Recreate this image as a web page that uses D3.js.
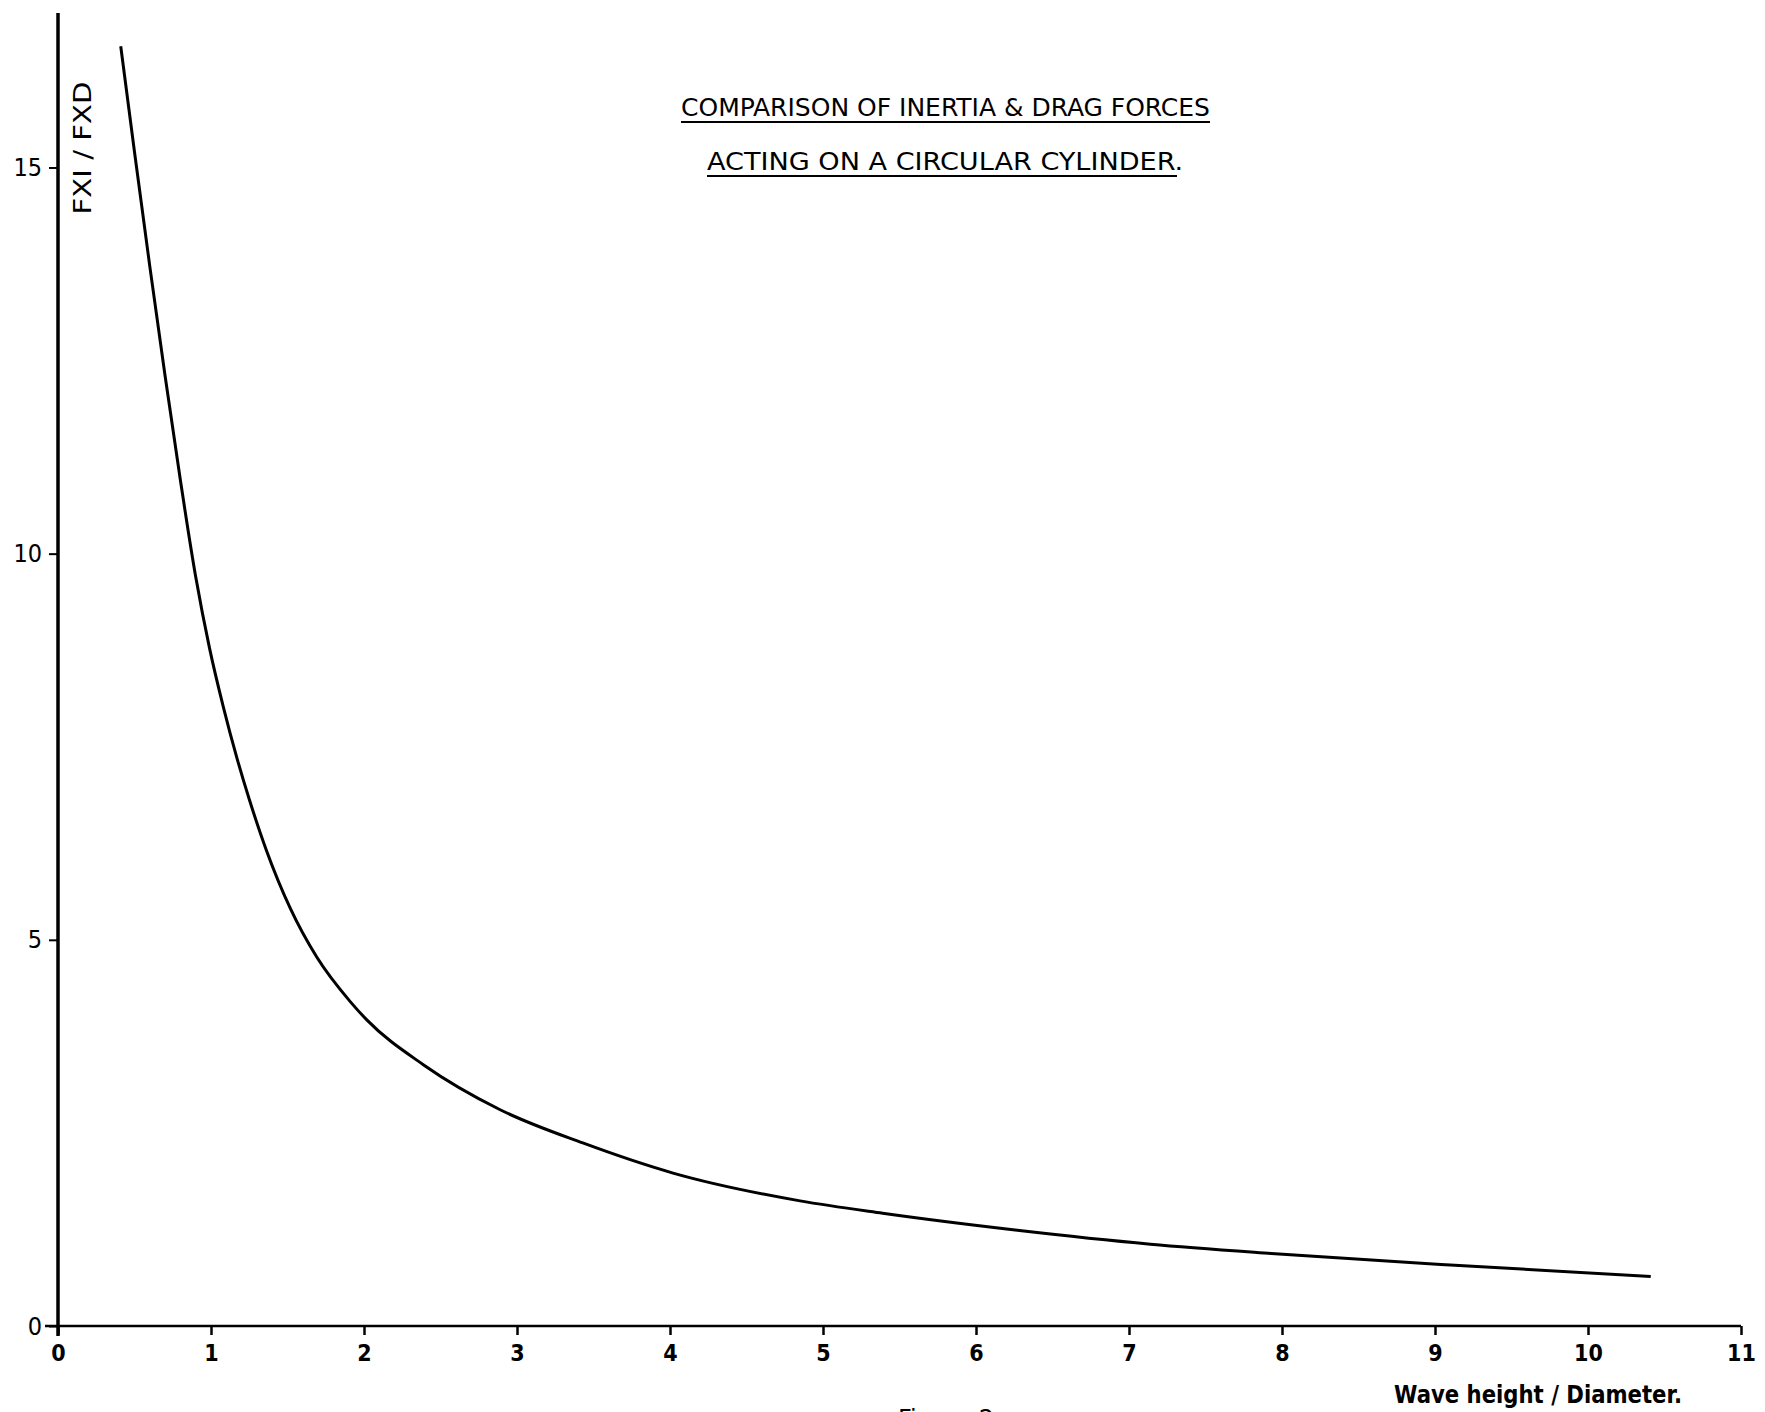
<!DOCTYPE html>
<head>
    <title>Inertia vs drag forces</title>
    <script src="https://cdn.jsdelivr.net/npm/d3@7"></script>
    <style type="text/css">
     body { margin: 0; background: #fff; }
     text { font-family: "DejaVu Sans", sans-serif; fill: #000; }
    </style>
</head>
<body>
    <script type="text/javascript">

     // curve: wave height / diameter vs FXI / FXD
     var ratioH = [0.41, 0.50, 0.60, 0.70, 0.80, 0.90, 0.99, 1.08, 1.17, 1.25, 1.36, 1.52, 1.69,
		   1.91, 2.02, 2.39, 2.89, 3.43, 4.02, 4.85, 5.39, 6.27, 7.14, 7.93, 9.10, 10.41];
     var ratioF = [16.57, 15.20, 13.72, 12.30, 10.95, 9.70, 8.78, 8.02, 7.35, 6.82, 6.17, 5.40, 4.78,
		   4.20, 3.96, 3.38, 2.80, 2.37, 1.98, 1.62, 1.46, 1.24, 1.06, 0.94, 0.79, 0.64];
     var xTicks = [0, 1, 2, 3, 4, 5, 6, 7, 8, 9, 10, 11];
     var yTicks = [0, 5, 10, 15];
     var titleLines = ["COMPARISON OF INERTIA & DRAG FORCES", "ACTING ON A CIRCULAR CYLINDER."];

     var w = 1765;
     var h = 1412;

     var svg = d3.select("body")
		 .append("svg")
		 .attr("width", w)
		 .attr("height", h);

     var x = d3.scaleLinear().domain([0, 11]).range([58, 1741]);
     var y = d3.scaleLinear().domain([0, 17]).range([1326, 13]);

     var pts = ratioH.map(function(d, i){ return [d, ratioF[i]]; });

     // x axis
     var xAxis = d3.axisBottom(x)
		   .tickValues(xTicks)
		   .tickSize(9)
		   .tickSizeOuter(0)
		   .tickPadding(10);
     var gx = svg.append("g")
		 .attr("transform", "translate(0," + y(0) + ")")
		 .call(xAxis);
     gx.select(".domain").remove();
     gx.append("line")
       .attr("x1", 45).attr("x2", x(11))
       .attr("stroke", "#000").attr("stroke-width", 2.5);
     gx.selectAll(".tick line").attr("stroke-width", 2.5);
     gx.selectAll(".tick text")
       .style("font-size", "23px")
       .style("font-weight", "bold")
       .style("font-family", "DejaVu Sans Condensed, DejaVu Sans, sans-serif");

     // y axis
     var yAxis = d3.axisLeft(y)
		   .tickValues(yTicks)
		   .tickSize(9)
		   .tickSizeOuter(0)
		   .tickPadding(7);
     var gy = svg.append("g")
		 .attr("transform", "translate(" + x(0) + ",0)")
		 .call(yAxis);
     gy.select(".domain").remove();
     gy.append("line")
       .attr("y1", y(17)).attr("y2", y(0) + 10)
       .attr("stroke", "#000").attr("stroke-width", 3.5);
     gy.selectAll(".tick line").attr("stroke-width", 2);
     gy.selectAll(".tick text")
       .style("font-size", "25px")
       .style("font-family", "DejaVu Sans Condensed, DejaVu Sans, sans-serif");

     // curve
     var line = d3.line()
		  .x(function(d){ return x(d[0]); })
		  .y(function(d){ return y(d[1]); })
		  .curve(d3.curveMonotoneX);

     svg.append("path")
	.datum(pts)
	.attr("d", line)
	.attr("fill", "none")
	.attr("stroke", "#000")
	.attr("stroke-width", 3);

     // axis labels
     svg.append("text")
	.attr("transform", "translate(91,148) rotate(-90)")
	.attr("text-anchor", "middle")
	.attr("textLength", 133)
	.attr("lengthAdjust", "spacingAndGlyphs")
	.style("font-size", "24px")
	.text("FXI / FXD");

     svg.append("text")
	.attr("x", 1394)
	.attr("y", 1403)
	.attr("textLength", 288)
	.attr("lengthAdjust", "spacingAndGlyphs")
	.style("font-size", "25px")
	.style("font-weight", "bold")
	.text("Wave height / Diameter.");

     // title with underlines
     var tx = [681, 707];
     var tw = [529, 476];
     var ty = [116, 170];
     titleLines.forEach(function(t, i){
	 svg.append("text")
	    .attr("x", tx[i])
	    .attr("y", ty[i])
	    .attr("textLength", tw[i])
	    .attr("lengthAdjust", "spacingAndGlyphs")
	    .style("font-size", "24px")
	    .style("font-family", "DejaVu Sans Condensed, DejaVu Sans, sans-serif")
	    .text(t);
	 svg.append("line")
	    .attr("x1", tx[i])
	    .attr("x2", tx[i] + (i == 0 ? tw[i] : tw[i] - 6))
	    .attr("y1", ty[i] + 6)
	    .attr("y2", ty[i] + 6)
	    .attr("stroke", "#000")
	    .attr("stroke-width", 2);
     });

     // caption cut off at the page edge
     svg.append("text")
	.attr("x", 946)
	.attr("y", 1427)
	.attr("text-anchor", "middle")
	.style("font-size", "24px")
	.text("Figure 2");

    </script>
</body>
